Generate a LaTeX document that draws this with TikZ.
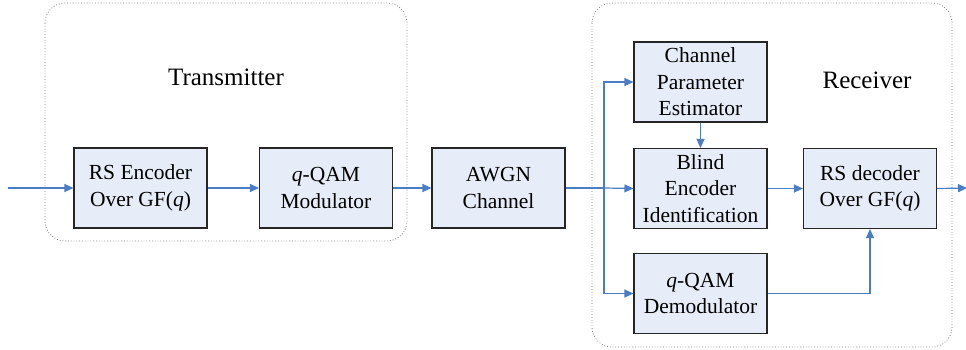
\documentclass[tikz,border=0pt]{standalone}
\usepackage{fontspec}
\setmainfont{Liberation Serif}
\usetikzlibrary{arrows.meta}
\definecolor{boxfill}{RGB}{231,237,248}
\definecolor{linkblue}{RGB}{74,125,196}
\definecolor{groupline}{RGB}{125,125,125}
\begin{document}
\begin{tikzpicture}[x=1pt,y=-1pt,
  block/.style={draw=black!85,line width=1.1pt,fill=boxfill,
    minimum width=133pt,minimum height=80pt,inner sep=0pt,
    align=center,font=\fontsize{21.5}{26.5}\selectfont},
  group/.style={draw=groupline,dotted,line width=0.8pt,rounded corners=20pt},
  title/.style={font=\fontsize{25}{30}\selectfont},
  link/.style={draw=linkblue,line width=1.2pt},
  arr/.style={link,-{Triangle[length=9pt,width=8pt]}}]
\useasboundingbox (0,0) rectangle (966,349);
\clip (0,0) rectangle (966,349);

% transmitter and receiver groups
\draw[group] (45,3) rectangle (407,241);
\draw[group] (592,3) rectangle (952,347);
\node[title] (tx) at (226,77) {Transmitter};
\node[title] (rx) at (867,80) {Receiver};

% blocks
\node[block] (enc) at (140.5,188) {RS Encoder\\Over GF(\textit{q})};
\node[block] (mod) at (326,188) {\textit{q}-QAM\\Modulator};
\node[block] (awgn) at (498.5,188) {AWGN\\Channel};
\node[block] (cpe) at (700.5,82) {Channel\\Parameter\\Estimator};
\node[block] (bei) at (700.5,188.5) {Blind\\Encoder\\Identification};
\node[block] (dem) at (700.5,293.5) {\textit{q}-QAM\\Demodulator};
\node[block] (dec) at (870,188.5) {RS decoder\\Over GF(\textit{q})};

% connectors
\coordinate (in) at (8,188);
\coordinate (out) at (967,188);
\coordinate (split) at (604,188);
\draw[arr] (in) -- (enc);
\draw[arr] (enc) -- (mod);
\draw[arr] (mod) -- (awgn);
\draw[link] (awgn.east) -- (split);
\draw[arr] (split) -- (bei.west);
\draw[arr] (split) |- (cpe.west);
\draw[arr] (split) |- (dem.west);
\draw[arr] (cpe) -- (bei);
\draw[arr] (bei) -- (dec);
\draw[arr] (dem.east) -| (dec.south);
\draw[arr] (dec.east) -- (out);
\end{tikzpicture}
\end{document}
